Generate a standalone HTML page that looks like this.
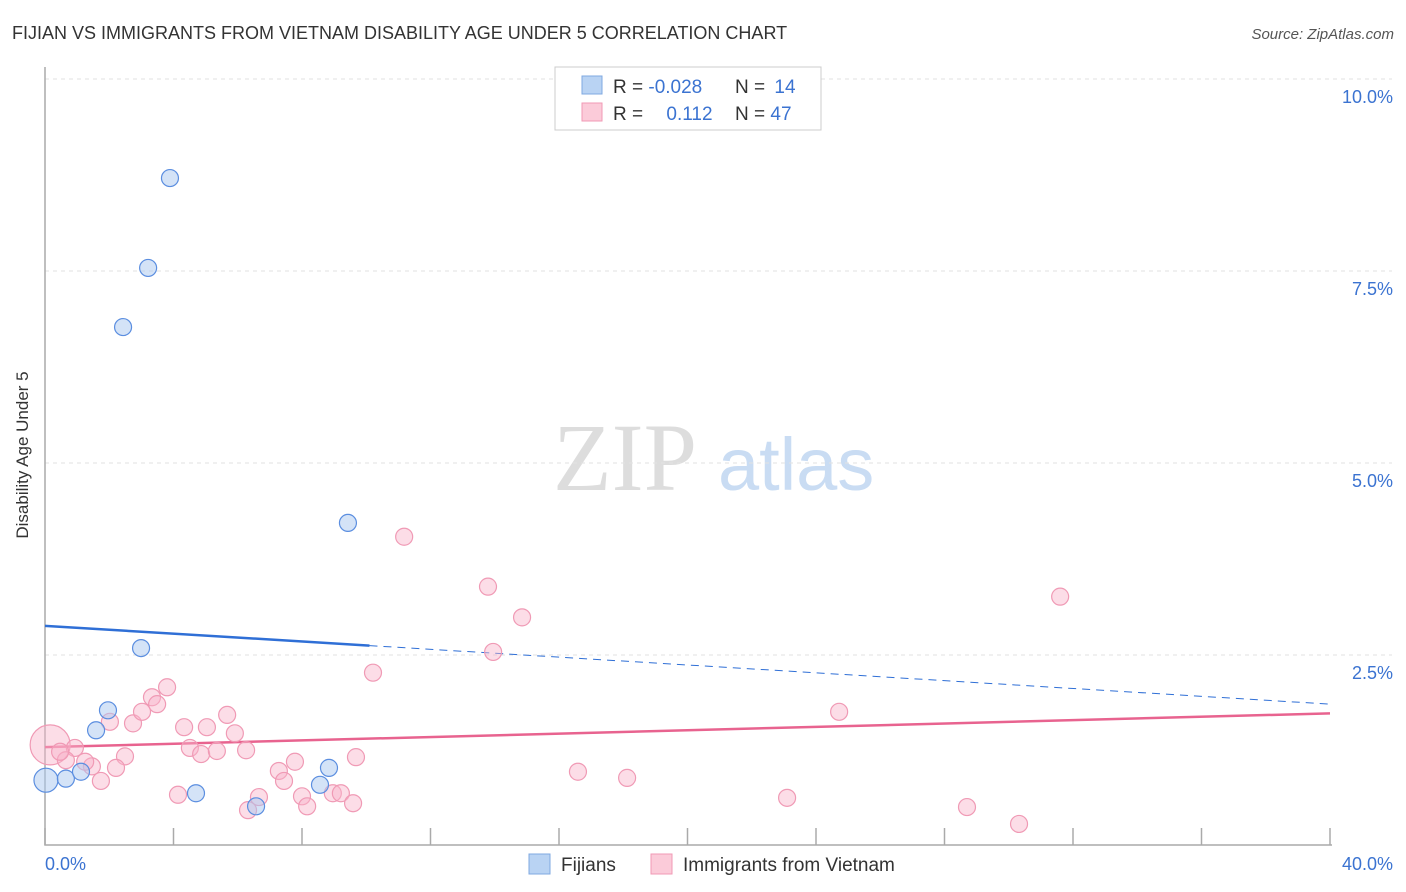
<!DOCTYPE html>
<html><head><meta charset="utf-8"><style>
body{margin:0;background:#fff;font-family:"Liberation Sans",sans-serif;}
svg{display:block}
</style></head><body>
<svg id="chart" width="1406" height="892" font-family="Liberation Sans, sans-serif">
<text x="12" y="39" font-size="18" fill="#333">FIJIAN VS IMMIGRANTS FROM VIETNAM DISABILITY AGE UNDER 5 CORRELATION CHART</text>
<text x="1394" y="39" font-size="15" fill="#555" font-style="italic" text-anchor="end">Source: ZipAtlas.com</text>
<g>
<text x="553" y="490" font-size="96" fill="#ddd" font-family="Liberation Serif, serif">ZIP</text>
<text x="718" y="490" font-size="74" fill="#c9dcf3">atlas</text>
</g>
<g id="grid"></g>
<g id="axes"></g>
<g id="trend"></g>
<g id="points"></g>
<text x="28" y="455" font-size="17" fill="#333" text-anchor="middle" transform="rotate(-90 28 455)">Disability Age Under 5</text>
<g>
<rect x="555" y="67" width="266" height="63" fill="#fff" stroke="#ccc"/>
<rect x="582" y="76" width="20" height="18" fill="#b9d3f3" stroke="#7fa8e0"/>
<rect x="582" y="103" width="20" height="18" fill="#fbcbd9" stroke="#f09ab5"/>
<text x="613" y="93" font-size="19" fill="#333">R = <tspan fill="#3b73d1">-0.028</tspan></text>
<text x="735" y="93" font-size="19" fill="#333">N = <tspan fill="#3b73d1" dx="4">14</tspan></text>
<text x="613" y="120" font-size="19" fill="#333">R = <tspan fill="#3b73d1" dx="18">0.112</tspan></text>
<text x="735" y="120" font-size="19" fill="#333">N = <tspan fill="#3b73d1">47</tspan></text>
</g>
<g>
<rect x="529" y="854" width="21" height="20" fill="#b9d3f3" stroke="#7fa8e0"/>
<text x="561" y="871" font-size="19" fill="#333">Fijians</text>
<rect x="651" y="854" width="21" height="20" fill="#fbcbd9" stroke="#f09ab5"/>
<text x="683" y="871" font-size="19" fill="#333">Immigrants from Vietnam</text>
</g>
</svg>
<script>
const yTicks=[2.5,5,7.5,10];
const yTickLabels=["2.5%","5.0%","7.5%","10.0%"];
const xTicks=[0,4,8,12,16,20,24,28,32,36,40];
const fijianX=[3.89,3.21,2.43,9.43,2.99,1.96,1.59,0.03,0.65,1.12,4.70,6.57,8.84,8.56];
const fijianY=[8.71,7.54,6.77,4.22,2.59,1.78,1.52,0.87,0.89,0.98,0.70,0.53,1.03,0.81];
const fijianR=[8.5,8.5,8.5,8.5,8.5,8.5,8.5,12,8.5,8.5,8.5,8.5,8.5,8.5];
const vietX=[0.16,0.93,0.65,1.46,1.25,2.02,2.74,3.02,3.33,3.49,3.80,2.49,2.21,1.74,4.33,4.51,4.86,5.04,5.35,5.67,5.91,6.26,4.14,6.32,6.66,7.28,7.44,7.78,8.00,8.16,8.96,9.21,9.59,9.68,10.21,11.18,13.79,14.85,13.95,16.59,18.12,23.10,24.72,28.70,30.32,31.60,0.47];
const vietY=[1.33,1.29,1.13,1.05,1.11,1.63,1.61,1.76,1.95,1.86,2.08,1.18,1.03,0.86,1.56,1.29,1.21,1.56,1.25,1.72,1.48,1.26,0.68,0.48,0.65,0.99,0.86,1.11,0.66,0.53,0.70,0.70,0.57,1.17,2.27,4.04,3.39,2.99,2.54,0.98,0.90,0.64,1.76,0.52,0.30,3.26,1.24];
const fijianTrend=[2.88,1.86];
const vietTrend=[1.30,1.74];
const fijianSolidEnd=10.1;

const NS="http://www.w3.org/2000/svg";
const X0=45,X1=1330,Y0=847,PXY=76.8;
const sx=v=>X0+(v/40)*(X1-X0);
const sy=v=>Y0-v*PXY;
function mk(tag,attrs,parent){const e=document.createElementNS(NS,tag);for(const k in attrs)e.setAttribute(k,attrs[k]);parent.appendChild(e);return e;}
const grid=document.getElementById('grid'),axes=document.getElementById('axes'),trend=document.getElementById('trend'),pts=document.getElementById('points');
yTicks.forEach((t,i)=>{
 const l=mk('line',{x1:X0,x2:1392,y1:sy(t),y2:sy(t),stroke:'#e2e2e2','stroke-dasharray':'4,4'},grid);
 
 
 const tx=mk('text',{x:1393,y:sy(t)+24,'font-size':18,fill:'#3b73d1','text-anchor':'end'},grid);
 tx.textContent=yTickLabels[i];
 
 
});
const ax=mk('path',{d:`M${X0} 67V845H${X1+2}`,stroke:'#aaa',fill:'none','stroke-width':1.5},axes);


xTicks.forEach(t=>{
 const l=mk('line',{x1:sx(t),x2:sx(t),y1:828,y2:845,stroke:'#aaa','stroke-width':1.5},axes);
 
 
});
const xl0=mk('text',{x:45,y:870,'font-size':18,fill:'#3b73d1'},axes);xl0.textContent='0.0%';


const xl1=mk('text',{x:1393,y:870,'font-size':18,fill:'#3b73d1','text-anchor':'end'},axes);xl1.textContent='40.0%';


const fAt=x=>fijianTrend[0]+(fijianTrend[1]-fijianTrend[0])*x/40;
const vAt=x=>vietTrend[0]+(vietTrend[1]-vietTrend[0])*x/40;
const t1=mk('line',{x1:sx(0),y1:sy(fAt(0)),x2:sx(fijianSolidEnd),y2:sy(fAt(fijianSolidEnd)),stroke:'#2f6fd6','stroke-width':2.5},trend);


const t2=mk('line',{x1:sx(fijianSolidEnd),y1:sy(fAt(fijianSolidEnd)),x2:sx(40),y2:sy(fAt(40)),stroke:'#2f6fd6','stroke-width':1,'stroke-dasharray':'8,6'},trend);


const t3=mk('line',{x1:sx(0),y1:sy(vAt(0)),x2:sx(40),y2:sy(vAt(40)),stroke:'#e8638f','stroke-width':2.5},trend);


vietX.forEach((x,i)=>{
 const c=mk('circle',{cx:sx(x),cy:sy(vietY[i]),r:i===0?20:8.5,fill:'rgba(248,180,202,0.45)',stroke:'#f09ab5','stroke-width':1.2},pts);
 
 
});
fijianX.forEach((x,i)=>{
 const c=mk('circle',{cx:sx(x),cy:sy(fijianY[i]),r:fijianR[i],fill:'rgba(170,200,240,0.5)',stroke:'#5b8ee0','stroke-width':1.2},pts);
 
 
});
</script>
</body></html>
